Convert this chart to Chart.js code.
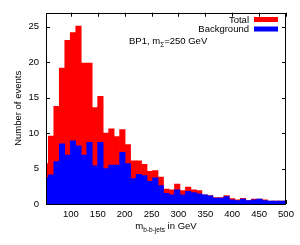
<!DOCTYPE html>
<html>
<head>
<meta charset="utf-8">
<script src="https://cdn.jsdelivr.net/npm/chart.js@4/dist/chart.umd.min.js"></script>
<style>
  html, body { margin: 0; padding: 0; background: #fff; }
  canvas { display: block; }
</style>
</head>
<body>
<canvas id="mbbChart" width="300" height="245"></canvas>
<script>
// histogram bins (centre of each bin, GeV)
const binCenters = [
  52.9, 63.1, 73.3, 83.5, 93.7, 103.9, 114.1, 124.3, 134.5, 144.7,
  154.9, 165.1, 175.3, 185.5, 195.7, 205.9, 216.1, 226.3, 236.5, 246.7,
  256.9, 267.1, 277.3, 287.5, 297.7, 307.9, 318.1, 328.3, 338.5, 348.7,
  358.9, 369.1, 379.3, 389.5, 399.7, 409.9, 420.1, 430.3, 440.5, 450.7,
  460.9, 471.1, 481.3, 491.5, 501.7
];

// signal + background
const totalEvents = [
  5.7, 9.6, 13.8, 19.2, 23.1, 24.2, 25.1, 19.9, 19.9, 13.6,
  15.2, 10.0, 10.6, 9.5, 10.5, 8.4, 6.1, 6.1, 5.6, 4.6,
  4.7, 3.8, 2.1, 2.0, 2.8, 1.9, 2.4, 2.0, 1.9, 1.3,
  1.2, 0.9, 0.9, 1.2, 0.75, 0.6, 0.8, 0.5, 0.7, 0.7,
  0.6, 0.4, 0.4, 0.4, 0.4
];

// background only
const bgEvents = [
  3.7, 4.1, 6.0, 8.5, 6.9, 8.9, 8.2, 6.9, 8.7, 5.4,
  8.7, 5.0, 5.5, 5.5, 7.3, 5.7, 3.6, 4.2, 4.0, 3.2,
  3.7, 2.6, 1.5, 1.3, 2.0, 1.3, 1.8, 1.6, 1.45, 1.3,
  1.15, 0.85, 0.85, 1.05, 0.6, 0.5, 0.7, 0.5, 0.6, 0.7,
  0.5, 0.4, 0.4, 0.4, 0.4
];

const xTicks = [100, 150, 200, 250, 300, 350, 400, 450, 500];
const yTicks = [0, 5, 10, 15, 20, 25];

const FONT = "'Liberation Sans', Arial, sans-serif";
const RED = '#ff0000';
const BLUE = '#0000ff';

// text with a subscript part, returns end x
function drawSub(ctx, x, y, main, sub, rest, size, subSize) {
    ctx.font = size + 'px ' + FONT;
    ctx.fillText(main, x, y);
    x += ctx.measureText(main).width;
    ctx.font = subSize + 'px ' + FONT;
    ctx.fillText(sub, x, y + 3);
    x += ctx.measureText(sub).width;
    ctx.font = size + 'px ' + FONT;
    ctx.fillText(rest, x, y);
    return x + ctx.measureText(rest).width;
}

function subWidth(ctx, main, sub, rest, size, subSize) {
    ctx.font = size + 'px ' + FONT;
    let w = ctx.measureText(main).width + ctx.measureText(rest).width;
    ctx.font = subSize + 'px ' + FONT;
    return w + ctx.measureText(sub).width;
}

// gnuplot look: inward ticks on all four sides, frame, titles, key
const gnuplotFrame = {
    id: 'gnuplotFrame',
    beforeDatasetsDraw(chart) {
        const { ctx, chartArea: a, scales: { x, y } } = chart;
        ctx.save();
        ctx.strokeStyle = '#000';
        ctx.lineWidth = 1;
        ctx.beginPath();
        xTicks.forEach(v => {
            const px = Math.round(x.getPixelForValue(v)) + 0.5;
            ctx.moveTo(px, a.bottom); ctx.lineTo(px, a.bottom - 4);
            ctx.moveTo(px, a.top); ctx.lineTo(px, a.top + 4);
        });
        yTicks.forEach(v => {
            const py = Math.round(y.getPixelForValue(v)) + 0.5;
            ctx.moveTo(a.left, py); ctx.lineTo(a.left + 4, py);
            ctx.moveTo(a.right, py); ctx.lineTo(a.right - 4, py);
        });
        ctx.stroke();
        ctx.restore();
    },
    afterDraw(chart) {
        const { ctx, chartArea: a } = chart;
        ctx.save();
        ctx.strokeStyle = '#000';
        ctx.lineWidth = 1;
        ctx.strokeRect(Math.round(a.left) + 0.5, Math.round(a.top) + 0.5,
            Math.round(a.right - a.left) - 1, Math.round(a.bottom - a.top));

        ctx.fillStyle = '#000';
        ctx.textBaseline = 'alphabetic';
        ctx.textAlign = 'left';

        // x title
        const cx = (a.left + a.right) / 2;
        const w = subWidth(ctx, 'm', 'b-b-jets', ' in GeV', 9.5, 6.5);
        drawSub(ctx, cx - w / 2, 229, 'm', 'b-b-jets', ' in GeV', 9.5, 6.5);

        // y title
        ctx.save();
        ctx.translate(21, (a.top + a.bottom) / 2);
        ctx.rotate(-Math.PI / 2);
        ctx.textAlign = 'center';
        ctx.font = '9.5px ' + FONT;
        ctx.fillText('Number of events', 0, 0);
        ctx.restore();

        // annotation
        drawSub(ctx, 129, 44, 'BP1, m', '\u03A3', '=250 GeV', 9.5, 6.5);

        // key
        ctx.font = '9.5px ' + FONT;
        ctx.textAlign = 'right';
        chart.data.datasets.forEach((ds, i) => {
            const yb = 22.5 + i * 9.5;
            ctx.fillStyle = '#000';
            ctx.fillText(ds.label, 249, yb);
            ctx.fillStyle = ds.backgroundColor;
            ctx.fillRect(254, yb - 5.5, 24, 5);
        });
        ctx.restore();
    }
};

const ctx = document.getElementById('mbbChart');
new Chart(ctx, {
    type: 'bar',
    data: {
        datasets: [
            {
                label: 'Total',
                data: binCenters.map((c, i) => ({ x: c, y: totalEvents[i] })),
                backgroundColor: RED,
                borderWidth: 0,
                order: 1
            },
            {
                label: 'Background',
                data: binCenters.map((c, i) => ({ x: c, y: bgEvents[i] })),
                backgroundColor: BLUE,
                borderWidth: 0,
                order: 0
            }
        ]
    },
    options: {
        responsive: false,
        animation: false,
        devicePixelRatio: 1,
        layout: { padding: { left: 0, top: 12, right: 14, bottom: 0 } },
        datasets: { bar: { grouped: false, barPercentage: 1, categoryPercentage: 1 } },
        scales: {
            x: {
                type: 'linear',
                min: 53.7,
                max: 500,
                offset: false,
                grid: { display: false, drawTicks: false },
                border: { display: false },
                ticks: { color: '#000', padding: 5, maxRotation: 0, font: { family: FONT, size: 9.5 } },
                afterBuildTicks: s => { s.ticks = xTicks.map(v => ({ value: v })); },
                afterFit: s => { s.height = 41; }
            },
            y: {
                min: 0,
                max: 27,
                grid: { display: false, drawTicks: false },
                border: { display: false },
                ticks: { color: '#000', padding: 7, font: { family: FONT, size: 9.5 } },
                afterBuildTicks: s => { s.ticks = yTicks.map(v => ({ value: v })); },
                afterFit: s => { s.width = 46; }
            }
        },
        plugins: {
            legend: { display: false },
            tooltip: { enabled: false }
        }
    },
    plugins: [gnuplotFrame]
});
</script>
</body>
</html>
